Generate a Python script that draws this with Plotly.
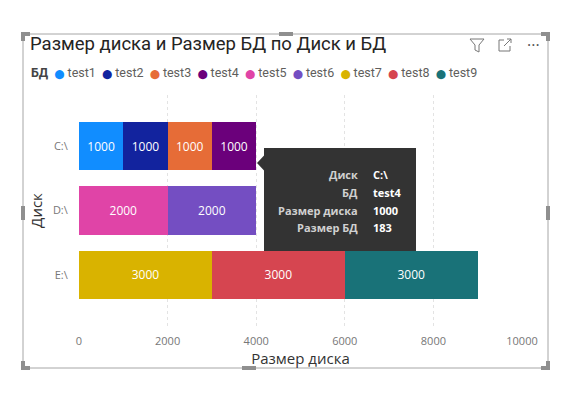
import plotly.graph_objects as go

disks = ["C:\\", "D:\\", "E:\\"]
dbs = ["test1", "test2", "test3", "test4", "test5", "test6", "test7", "test8", "test9"]
db_disk = ["C:\\", "C:\\", "C:\\", "C:\\", "D:\\", "D:\\", "E:\\", "E:\\", "E:\\"]
disk_size = [1000, 1000, 1000, 1000, 2000, 2000, 3000, 3000, 3000]
colors = ["#118DFF", "#12239E", "#E66C37", "#6B007B", "#E044A7", "#744EC2", "#D9B300", "#D64550", "#197278"]
x_ticks = [0, 2000, 4000, 6000, 8000, 10000]
x_tick_labels = ["0", "2000", "4000", "6000", "8000", "10000"]

tooltip_labels = ["Диск", "БД", "Размер диска", "Размер БД"]
tooltip_values = ["C:\\", "test4", "1000", "183"]

W, H = 578, 395
ML, MR, MT, MB = 79, 56, 95, 69
PW, PH = W - ML - MR, H - MT - MB

def px(x):
    return (x - ML) / PW

def py(y):
    return (H - MB - y) / PH

FONT = "Open Sans, Roboto, sans-serif"
TFONT = "Roboto, sans-serif"

fig = go.Figure()
for name, disk, val, col in zip(dbs, db_disk, disk_size, colors):
    fig.add_trace(go.Bar(
        y=[disk], x=[val], name=name, orientation="h",
        marker=dict(color=col, line=dict(width=0)),
        text=[val], texttemplate="%{x}", textposition="inside",
        insidetextanchor="middle", textangle=0,
        textfont=dict(color="white", size=12, family=FONT),
        width=0.75, showlegend=False,
    ))

shapes = []
shapes.append(dict(type="rect", xref="paper", yref="paper", x0=px(23), x1=px(548), y0=py(368), y1=py(34),
                   line=dict(color="#a6a6a6", width=1), layer="above"))
handle_col = "#8f8f8f"
for (x0, y0, x1, y1) in [
    (21, 32, 30, 36), (21, 32, 25, 41),
    (541, 32, 550, 36), (546, 32, 550, 41),
    (21, 366, 30, 370), (21, 361, 25, 370),
    (541, 366, 550, 370), (546, 361, 550, 370),
    (279, 32, 293, 36), (242, 366, 256, 370),
    (21, 206, 25, 220), (546, 206, 550, 220),
]:
    shapes.append(dict(type="rect", xref="paper", yref="paper", x0=px(x0), x1=px(x1), y0=py(y1), y1=py(y0),
                       fillcolor=handle_col, line=dict(width=0), layer="above"))

# filter icon
shapes.append(dict(type="path", xref="paper", yref="paper",
                   path=f"M {px(470)},{py(39)} L {px(484)},{py(39)} L {px(479)},{py(45)} L {px(479)},{py(52)} L {px(475)},{py(50)} L {px(475)},{py(45)} Z",
                   line=dict(color="#777", width=1), fillcolor="rgba(0,0,0,0)", layer="above"))
# expand icon
shapes.append(dict(type="path", xref="paper", yref="paper",
                   path=f"M {px(504)},{py(40)} L {px(499)},{py(40)} L {px(499)},{py(51)} L {px(510)},{py(51)} L {px(510)},{py(46)}",
                   line=dict(color="#777", width=1), layer="above"))
shapes.append(dict(type="path", xref="paper", yref="paper",
                   path=f"M {px(504)},{py(46)} L {px(511)},{py(39)} M {px(507)},{py(39)} L {px(511)},{py(39)} L {px(511)},{py(43)}",
                   line=dict(color="#777", width=1), layer="above"))

# tooltip
shapes.append(dict(type="rect", xref="paper", yref="paper", x0=px(264), x1=px(416), y0=py(251), y1=py(148),
                   fillcolor="#333333", line=dict(width=0), layer="above"))
shapes.append(dict(type="path", xref="paper", yref="paper",
                   path=f"M {px(264.5)},{py(155)} L {px(257)},{py(163)} L {px(264.5)},{py(171)} Z",
                   fillcolor="#333333", line=dict(width=0), layer="above"))

annotations = []
annotations.append(dict(text="Размер диска и Размер БД по Диск и БД", xref="paper", yref="paper",
                        x=px(28), y=py(44), xanchor="left", yanchor="middle", showarrow=False,
                        font=dict(size=18.5, color="#252423", family=TFONT)))
annotations.append(dict(text="···", xref="paper", yref="paper", x=px(533), y=py(45), xanchor="center",
                        yanchor="middle", showarrow=False, font=dict(size=16, color="#555", family=FONT)))
NB = "\u00a0"
leg = "<b style='color:#444'>БД</b>" + NB + NB + (NB + NB).join(
    f"<span style='color:{c};font-family:DejaVu Sans;font-size:9px'>\u2b24</span>{NB}{n}" for n, c in zip(dbs, colors))
annotations.append(dict(text=leg, xref="paper", yref="paper", x=px(29), y=py(73), xanchor="left",
                        yanchor="middle", showarrow=False, font=dict(size=12.5, color="#605E5C", family=TFONT)))
for i, (lab, val) in enumerate(zip(tooltip_labels, tooltip_values)):
    yy = 174 + i * 18
    annotations.append(dict(text=f"<b>{lab}</b>", xref="paper", yref="paper", x=px(360), y=py(yy),
                            xanchor="right", yanchor="middle", showarrow=False,
                            font=dict(size=11, color="#d0d0d0", family=FONT)))
    annotations.append(dict(text=f"<b>{val}</b>", xref="paper", yref="paper", x=px(371), y=py(yy),
                            xanchor="left", yanchor="middle", showarrow=False,
                            font=dict(size=11, color="#ffffff", family=FONT)))

fig.update_layout(
    width=W, height=H, autosize=False,
    margin=dict(l=ML, r=MR, t=MT, b=MB, pad=0),
    paper_bgcolor="white", plot_bgcolor="white",
    barmode="stack", bargap=0.25,
    showlegend=False,
    shapes=shapes, annotations=annotations,
    xaxis=dict(range=[0, 10000], tickvals=x_ticks, ticktext=x_tick_labels, showgrid=True, gridcolor="#e3e3e3",
               griddash="dot", gridwidth=1, zeroline=False, showline=False,
               tickfont=dict(size=11, color="#777777", family=FONT), ticks="outside", ticklen=5,
               tickcolor="rgba(0,0,0,0)",
               title=dict(text="Размер диска", font=dict(size=15, color="#333333", family=FONT), standoff=2)),
    yaxis=dict(type="category", categoryorder="array", categoryarray=disks, range=[2.8, -0.8],
               showgrid=False, zeroline=False, showline=False, ticks="outside", ticklen=8,
               tickcolor="rgba(0,0,0,0)",
               tickfont=dict(size=11, color="#777777", family=FONT),
               title=dict(text="Диск", font=dict(size=15, color="#333333", family=FONT), standoff=6)),
    font=dict(family=FONT),
)

fig.write_html("out.html", config={"displayModeBar": False},
               post_script="document.body.style.margin='0px';document.body.style.overflow='hidden';")
